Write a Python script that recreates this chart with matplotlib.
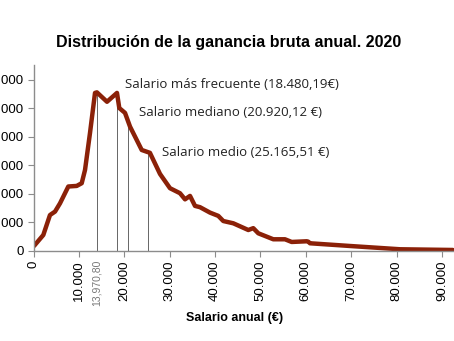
import matplotlib.pyplot as plt
from matplotlib.ticker import FuncFormatter

# Salario anual (€) y número de asalariados
salario = [110, 2160, 3630, 4740, 5840, 7670, 9520, 10620, 11350, 12450, 13550,
           13970, 16190, 18390, 18900, 20160, 21260, 23840, 25650, 27870, 30070,
           32270, 33380, 34480, 35580, 36680, 38880, 40710, 41810, 44020, 47320,
           48420, 49520, 52830, 55400, 56880, 60190, 60540, 60910, 69720, 80740,
           92410]
trabajadores = [175, 560, 1260, 1380, 1670, 2260, 2280, 2375, 2840, 4140, 5540,
                5560, 5230, 5540, 5010, 4840, 4360, 3540, 3440, 2700, 2200,
                2025, 1810, 1930, 1580, 1535, 1345, 1230, 1050, 970, 735,
                800, 620, 410, 410, 316, 340, 326, 270, 175, 60,
                35]

moda_inf = 13970.80
estadisticos = [18480.19, 20920.12, 25165.51]
etiquetas = ['Salario más frecuente (18.480,19€)',
             'Salario mediano (20.920,12 €)',
             'Salario medio (25.165,51 €)']

x_ticks = list(range(0, 100000, 10000))
y_ticks = list(range(0, 7000, 1000))

fig = plt.figure(figsize=(4.54, 3.41), dpi=100)
ax = fig.add_axes([0.0738, 0.264, 0.926, 0.5455])

gris = '#8c8c8c'
for v in [moda_inf] + estadisticos:
    # altura de la curva en cada valor
    for i in range(len(salario) - 1):
        if salario[i] <= v <= salario[i + 1]:
            t = (v - salario[i]) / (salario[i + 1] - salario[i])
            h = trabajadores[i] + t * (trabajadores[i + 1] - trabajadores[i])
            break
    ax.plot([v, v], [0, h], color='#666666', lw=0.7, zorder=1)

ax.plot(salario, trabajadores, color='#8b2108', lw=3.2, solid_capstyle='round',
        solid_joinstyle='round', zorder=2)

ax.set_xlim(0, 92620)
ax.set_ylim(0, 6520)
ax.set_xticks(x_ticks)
ax.set_yticks(y_ticks)
fmt = FuncFormatter(lambda v, p: '0' if v == 0 else f'{int(v):,}'.replace(',', '.'))
ax.xaxis.set_major_formatter(fmt)
ax.yaxis.set_major_formatter(fmt)
for s in ['top', 'right']:
    ax.spines[s].set_visible(False)
for s in ['left', 'bottom']:
    ax.spines[s].set_color(gris)
    ax.spines[s].set_linewidth(1)
ax.tick_params(axis='x', labelrotation=90, labelsize=9.5, length=4, color=gris, pad=3)
ax.tick_params(axis='y', labelsize=9.5, length=4, color=gris, pad=3)
for lab in ax.get_xticklabels() + ax.get_yticklabels():
    lab.set_family('Liberation Sans')

ax.text(moda_inf, -320, '13,970,80', rotation=90, ha='center', va='top',
        fontsize=7.5, color='#777777', family='Liberation Sans')

fig.text(235 / 454, 1 - 318 / 341, 'Salario anual (€)', ha='center', va='center',
         fontsize=9, fontweight='bold', family='Liberation Sans')
fig.text(229 / 454, 1 - 43 / 341, 'Distribución de la ganancia bruta anual. 2020',
         ha='center', va='center', fontsize=11.5, fontweight='bold',
         family='Liberation Sans')

pos_txt = [(125, 84), (139, 113), (162, 152)]
for (px, py), txt in zip(pos_txt, etiquetas):
    fig.text(px / 454, 1 - py / 341, txt, ha='left', va='center',
             fontsize=9.5, family='Open Sans', color='#222222')

fig.savefig('out.png', dpi=100)
